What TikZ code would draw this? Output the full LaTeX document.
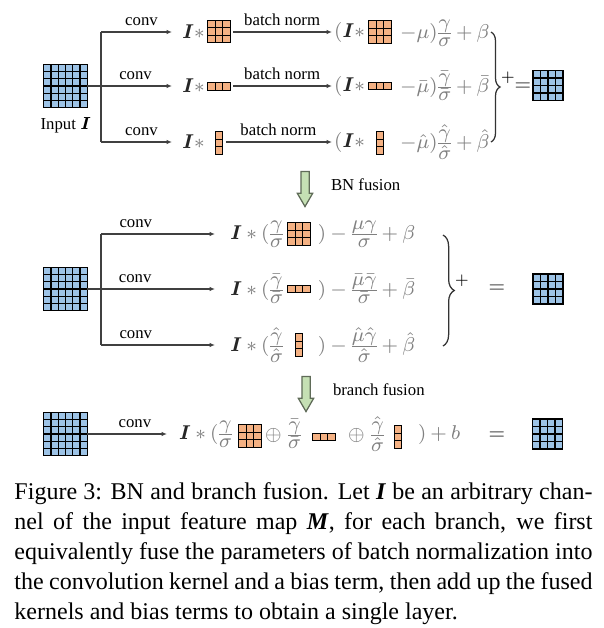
\documentclass[tikz,border=0pt]{standalone}
\usepackage{amsmath}
\usepackage{fontspec}
\setmainfont{Liberation Serif}
\usetikzlibrary{positioning,calc,arrows.meta,shapes.arrows,decorations.pathreplacing}

\definecolor{mapblue}{HTML}{9DC3E6}
\definecolor{kernorange}{HTML}{F4B183}
\definecolor{fusegreen}{HTML}{C5E0B4}
\definecolor{fuseedge}{HTML}{5F6B58}

\newcommand{\bfI}{\textcolor{black!85}{\boldsymbol{I}}}
\newcommand{\kfrac}[2]{\frac{\textstyle #1}{\textstyle #2}}
\newcommand{\fmlfont}{\fontsize{7.6}{9}\selectfont\nulldelimiterspace=0.3pt\relax\medmuskip=3.5mu\relax}

\tikzset{
  cells/.style n args={3}{draw=black, line width=0.5pt, inner sep=0pt, outer sep=0pt,
    minimum width=#1*#3, minimum height=#2*#3,
    path picture={
      \foreach \ci in {1,...,#1}
        \draw[line width=0.5pt] ($(path picture bounding box.south west)!\ci/#1!(path picture bounding box.south east)$)
          -- ($(path picture bounding box.north west)!\ci/#1!(path picture bounding box.north east)$);
      \foreach \ri in {1,...,#2}
        \draw[line width=0.5pt] ($(path picture bounding box.south west)!\ri/#2!(path picture bounding box.north west)$)
          -- ($(path picture bounding box.south east)!\ri/#2!(path picture bounding box.north east)$);
    }},
  fmap/.style={cells={#1}{#1}{2.9pt}, fill=mapblue},
  outmap/.style={cells={4}{4}{3pt}, fill=mapblue},
  kern/.style 2 args={cells={#1}{#2}{3pt}, fill=kernorange},
  fml/.style={font=\fmlfont, text=black!50, inner sep=0pt, outer sep=0pt, anchor=west},
  txt/.style={font=\fontsize{6.7}{8}\selectfont, inner sep=2.2pt},
  line/.style={draw=black!75, line width=0.45pt},
  bracket/.style={draw=black!80, line width=0.5pt, decorate, decoration={brace, amplitude=#1}},
  fusion/.style={single arrow, draw=fuseedge, fill=fusegreen, line width=0.5pt, shape border rotate=270,
    inner sep=1.4pt, minimum height=14pt, single arrow head extend=1.4pt, single arrow tip angle=60},
  capt/.style={font=\fontsize{9.6}{12}\selectfont, text width=231.2pt, align=justify, inner sep=0pt, anchor=north west}
}

\begin{document}
\begin{tikzpicture}[x=0.4pt, y=-0.4pt, >={Latex[length=2.2pt,width=1.8pt]}]
\useasboundingbox (0,0) rectangle (604,628);

% three branches with batch norm
\node[fmap=6] (in1) at (65.5,86) {};
\node[txt] (inlab) at (66,125) {Input $\boldsymbol{I}$};
\coordinate (jA1) at (101,32);
\coordinate (jA3) at (101,142);
\node[fml] (tA1) at (182,32) {$\bfI*$};
\node[fml] (tA2) at (182,86) {$\bfI*$};
\node[fml] (tA3) at (182,142) {$\bfI*$};
\node[kern={3}{3}] (kA1) at (219,31.5) {};
\node[kern={3}{1}] (kA2) at (219,86.5) {};
\node[kern={1}{3}] (kA3) at (219,143) {};
\node[fml] (tB1) at (334,32) {$(\bfI*$};
\node[fml] (tB2) at (334,86) {$(\bfI*$};
\node[fml] (tB3) at (334,142) {$(\bfI*$};
\node[kern={3}{3}] (kB1) at (380,32) {};
\node[kern={3}{1}] (kB2) at (380,86) {};
\node[kern={1}{3}] (kB3) at (380,143) {};
\node[fml] (uB1) at (400,33) {$-\mu)\kfrac{\gamma}{\sigma}+\beta$};
\node[fml] (uB2) at (400,86) {$-\bar{\mu})\kfrac{\bar{\gamma}}{\bar{\sigma}}+\bar{\beta}$};
\node[fml] (uB3) at (400,142) {$-\hat{\mu})\kfrac{\hat{\gamma}}{\hat{\sigma}}+\hat{\beta}$};
\coordinate (bA1) at (491,32);
\coordinate (bA3) at (491,142);
\node[txt, inner sep=0pt, font=\fontsize{6}{7}\selectfont] (plusA) at (508,78) {$+$};
\node[fml, text=black!80, anchor=center] (eqA) at (523,87) {$=$};
\node[outmap] (out1) at (548,85.5) {};

\draw[line] (jA1) -- (jA3);
\draw[line, ->, shorten >=4pt] (jA1) -- (tA1.west) node[txt, midway, above] {conv};
\draw[line, ->, shorten >=4pt] (in1.east) -- (tA2.west) node[txt, pos=0.51, above] {conv};
\draw[line, ->, shorten >=4pt] (jA3) -- (tA3.west) node[txt, midway, above] {conv};
\foreach \i in {1,2,3}
  \draw[line, ->, shorten <=1.2pt, shorten >=0.8pt] (kA\i.east |- tB\i.west) -- (tB\i.west)
    node[txt, midway, above] {batch norm};
\draw[bracket=3.6pt] (bA1) -- (bA3);

% BN fusion
\node[fusion] (fz1) at (305,185.5) {};
\node[txt, anchor=west] (fzlab1) at (325,185) {BN fusion};

% fused branches
\node[fmap=6] (in2) at (65.5,289) {};
\coordinate (jC1) at (101,234);
\coordinate (jC3) at (101,345);
\node[fml] (tC1) at (230,234) {$\bfI*(\kfrac{\gamma}{\sigma}$};
\node[fml] (tC2) at (230,289) {$\bfI*(\kfrac{\bar{\gamma}}{\bar{\sigma}}$};
\node[fml] (tC3) at (230,345) {$\bfI*(\kfrac{\hat{\gamma}}{\hat{\sigma}}$};
\node[kern={3}{3}] (kC1) at (299,234) {};
\node[kern={3}{1}] (kC2) at (299,289) {};
\node[kern={1}{3}] (kC3) at (299,345) {};
\node[fml] (uC1) at (318,234) {$)-\kfrac{\mu\gamma}{\sigma}+\beta$};
\node[fml] (uC2) at (318,289) {$)-\kfrac{\bar{\mu}\bar{\gamma}}{\bar{\sigma}}+\bar{\beta}$};
\node[fml] (uC3) at (318,345) {$)-\kfrac{\hat{\mu}\hat{\gamma}}{\hat{\sigma}}+\hat{\beta}$};
\coordinate (bC1) at (443,235);
\coordinate (bC3) at (443,346);
\node[txt, inner sep=0pt, font=\fontsize{6}{7}\selectfont] (plusC) at (462,281) {$+$};
\node[fml, text=black!80, anchor=center] (eqC) at (497,289) {$=$};
\node[outmap] (out2) at (548,289) {};

\draw[line] (jC1) -- (jC3);
\draw[line, ->, shorten >=6pt] (jC1) -- (tC1.west) node[txt, pos=0.27, above] {conv};
\draw[line, ->, shorten >=6pt] (in2.east) -- (tC2.west) node[txt, pos=0.336, above] {conv};
\draw[line, ->, shorten >=6pt] (jC3) -- (tC3.west) node[txt, pos=0.27, above] {conv};
\draw[bracket=4.5pt] (bC1) -- (bC3);

% branch fusion
\node[fusion] (fz2) at (306,390.5) {};
\node[txt, anchor=west] (fzlab2) at (327,390) {branch fusion};

% single layer
\node[fmap=6] (in3) at (65.5,434) {};
\node[fml] (tD1) at (179,434) {$\bfI*(\kfrac{\gamma}{\sigma}$};
\node[kern={3}{3}] (kD1) at (250,436) {};
\node[fml] (tD2) at (265,434) {$\oplus\;\kfrac{\bar{\gamma}}{\bar{\sigma}}$};
\node[kern={3}{1}] (kD2) at (324,437) {};
\node[fml] (tD3) at (348,434) {$\oplus\;\kfrac{\hat{\gamma}}{\hat{\sigma}}$};
\node[kern={1}{3}] (kD3) at (398,437) {};
\node[fml] (uD) at (418,434) {$)+b$};
\node[fml, text=black!80, anchor=center] (eqD) at (497,436) {$=$};
\node[outmap] (out3) at (547.5,434) {};
\draw[line, ->, shorten >=4.8pt] (in3.east) -- (tD1.west) node[txt, pos=0.52, above] {conv};

% caption
\node[capt] (cap) at (14,482) {Figure 3: BN and branch fusion. Let \textbf{\textit{I}} be an arbitrary chan-\linebreak
nel of the input feature map \textbf{\textit{M}}, for each branch, we first\linebreak
equivalently fuse the parameters of batch normalization into\linebreak
the convolution kernel and a bias term, then add up the fused\linebreak
kernels and bias terms to obtain a single layer.};
\end{tikzpicture}
\end{document}
